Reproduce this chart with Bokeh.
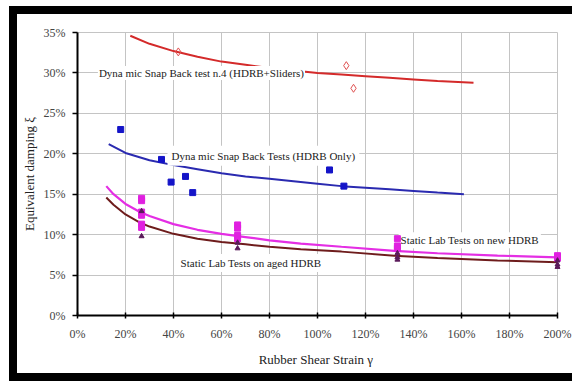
from bokeh.plotting import figure
from bokeh.models import Range1d, FixedTicker, PrintfTickFormatter, Label
from bokeh.embed import file_html
from bokeh.resources import INLINE

# ---- data (percent units) ----
x_ticks = [0, 20, 40, 60, 80, 100, 120, 140, 160, 180, 200]
y_ticks = [0, 5, 10, 15, 20, 25, 30, 35]

# Dynamic snap back test n.4 (HDRB + sliders)
red_fit_x = [22, 30, 40, 50, 60, 70, 80, 90, 100, 110, 120, 130, 140, 150, 165]
red_fit_y = [34.6, 33.6, 32.7, 32.0, 31.4, 31.0, 30.6, 30.3, 30.0, 29.8, 29.6, 29.4, 29.2, 29.0, 28.8]
red_pts_x = [42, 112, 115]
red_pts_y = [32.6, 30.9, 28.1]

# Dynamic snap back tests (HDRB only)
blue_fit_x = [13, 20, 30, 40, 50, 60, 70, 80, 90, 100, 110, 120, 130, 140, 150, 161]
blue_fit_y = [21.2, 20.1, 19.2, 18.6, 18.1, 17.6, 17.2, 16.9, 16.6, 16.3, 16.0, 15.8, 15.6, 15.4, 15.2, 15.0]
blue_pts_x = [18, 35, 39, 45, 48, 105, 111]
blue_pts_y = [23.0, 19.3, 16.5, 17.2, 15.2, 18.0, 16.0]

# Static lab tests, new and aged HDRB
static_fit_x = [12, 15, 20, 26, 30, 40, 50, 60, 70, 80, 93, 110, 132, 150, 175, 200]
new_fit_y = [16.0, 15.0, 13.8, 12.8, 12.3, 11.3, 10.6, 10.1, 9.7, 9.3, 8.9, 8.5, 8.0, 7.7, 7.4, 7.2]
aged_fit_y = [14.6, 13.7, 12.5, 11.5, 11.0, 10.1, 9.5, 9.1, 8.8, 8.5, 8.2, 7.9, 7.4, 7.1, 6.8, 6.6]
new_pts_x = [26.7] * 6 + [66.7] * 4 + [133.3] * 3 + [200] * 2
new_pts_y = [14.5, 14.2, 12.8, 12.4, 11.3, 10.9, 11.2, 10.8, 9.9, 9.5, 9.5, 8.6, 8.3, 7.4, 7.1]
aged_pts_x = [26.7] * 2 + [66.7] * 2 + [133.3] * 3 + [200] * 3
aged_pts_y = [12.9, 9.8, 9.0, 8.3, 7.7, 7.2, 6.9, 6.8, 6.3, 6.0]

FONT = "Liberation Serif"

# black picture frame (top, left, bottom bands) painted behind a transparent border area
frame_css = {
    "background-color": "white",
    "background-image": "linear-gradient(#000, #000), linear-gradient(#000, #000), linear-gradient(#000, #000)",
    "background-size": "563px 8px, 8px 375px, 563px 8px",
    "background-position": "9px 6px, 9px 6px, 9px 373px",
    "background-repeat": "no-repeat",
}

p = figure(width=572, height=381, output_backend="svg", toolbar_location=None,
           x_range=Range1d(0, 200), y_range=Range1d(0, 35),
           min_border_left=77, min_border_right=15, min_border_top=32, min_border_bottom=66,
           background_fill_color="white", border_fill_color=None,
           outline_line_color="#c4c4c4", styles=frame_css)

for g in (p.xgrid, p.ygrid):
    g.grid_line_color = "#c4c4c4"
    g.grid_line_width = 1
p.xgrid.ticker = FixedTicker(ticks=x_ticks)
p.ygrid.ticker = FixedTicker(ticks=y_ticks)

p.xaxis.ticker = FixedTicker(ticks=x_ticks)
p.yaxis.ticker = FixedTicker(ticks=y_ticks)
p.xaxis.formatter = PrintfTickFormatter(format="%d%%")
p.yaxis.formatter = PrintfTickFormatter(format="%d%%")
for ax in (p.xaxis, p.yaxis):
    ax.axis_line_color = "black"
    ax.axis_line_width = 2
    ax.major_tick_line_color = "black"
    ax.major_tick_line_width = 1.5
    ax.minor_tick_line_color = None
    ax.major_label_text_font = FONT
    ax.major_label_text_font_size = "12px"
    ax.major_label_text_color = "#444444"
    ax.axis_label_text_font = FONT
    ax.axis_label_text_font_size = "13px"
    ax.axis_label_text_font_style = "normal"
    ax.axis_label_text_color = "#222222"
p.xaxis.major_tick_in = 3
p.xaxis.major_tick_out = 3
p.xaxis.major_label_standoff = 8
p.xaxis.axis_label_standoff = 8
p.yaxis.major_tick_in = 0
p.yaxis.major_tick_out = 5
p.yaxis.major_label_standoff = 7
p.yaxis.axis_label_standoff = 4
p.xaxis.axis_label = "Rubber Shear Strain  γ"
p.yaxis.axis_label = "Equivalent damping ξ"

# curves
p.line(red_fit_x, red_fit_y, line_color="#d42a2a", line_width=2)
p.line(blue_fit_x, blue_fit_y, line_color="#2a2ab0", line_width=2)
p.line(static_fit_x, new_fit_y, line_color="#e42ee4", line_width=2.2)
p.line(static_fit_x, aged_fit_y, line_color="#6e1c1c", line_width=2)

# labels with white boxes
lab_kw = dict(text_font=FONT, text_font_size="11px", text_color="#222222",
              background_fill_color="white", text_baseline="middle")
p.add_layout(Label(x=8.5, y=30.0, text="Dyna mic Snap Back test n.4 (HDRB+Sliders)", padding=1, **lab_kw))
p.add_layout(Label(x=37.5, y=19.75, text="Dyna mic Snap Back Tests (HDRB Only)", padding=4, **lab_kw))
p.add_layout(Label(x=133.8, y=9.3, text="Static Lab Tests on new HDRB", padding=2, **lab_kw))
p.add_layout(Label(x=41.7, y=6.5, text="Static Lab Tests on aged HDRB", padding=3, **lab_kw))

# markers
r1 = p.scatter(red_pts_x, red_pts_y, marker="diamond", size=8, fill_color=None,
               line_color="#e05050", line_width=1)
r2 = p.scatter(blue_pts_x, blue_pts_y, marker="square", size=6, fill_color="#1414c8",
               line_color="#1414c8")
r3 = p.scatter(new_pts_x, new_pts_y, marker="square", size=6, fill_color="#e020e0",
               line_color="#e020e0")
r4 = p.scatter(aged_pts_x, aged_pts_y, marker="triangle", size=5, fill_color="#5a1a5a",
               line_color="#5a1a5a")
for r in (r1, r2, r3, r4):
    r.level = "overlay"

open("out.html", "w").write(file_html(p, INLINE))
